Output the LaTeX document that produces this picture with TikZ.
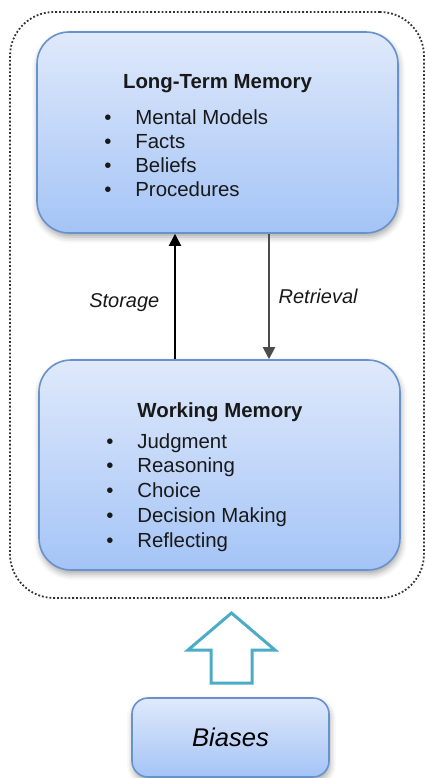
\documentclass[tikz,border=0pt]{standalone}
\usepackage{fontspec}
\setmainfont{Liberation Sans}
\usetikzlibrary{arrows.meta}
\usetikzlibrary{shadows.blur}
\definecolor{boxtop}{RGB}{223,233,251}
\definecolor{boxbot}{RGB}{164,196,246}
\definecolor{boxline}{RGB}{104,146,204}
\definecolor{pushcol}{RGB}{75,172,198}
\tikzset{mem/.style={draw=boxline, line width=0.8pt, top color=boxtop, bottom color=boxbot,
  blur shadow={shadow xshift=0.5pt, shadow yshift=-2pt, shadow opacity=35, shadow blur radius=3pt}}}
\tikzset{head/.style={font=\fontsize{10.2}{12}\selectfont\bfseries, text=black!90, anchor=base, inner sep=0pt}}
\tikzset{li/.style={font=\fontsize{10.2}{12}\selectfont, text=black!90, anchor=base west, inner sep=0pt}}
\tikzset{lab/.style={font=\fontsize{10}{12}\selectfont\itshape, text=black!90}}
\tikzset{flow/.style={-{Triangle[length=6pt,width=6pt]}, line width=1pt}}
\newcommand{\blt}{\makebox[15.5pt][l]{\textbullet}}

\begin{document}
\begin{tikzpicture}[x=0.5pt,y=-0.5pt]
  \useasboundingbox (0,0) rectangle (425,778);
  % dotted frame round both memories
  \node[draw=black!80, densely dotted, line width=0.9pt, rounded corners=22pt,
        minimum width=207pt, minimum height=293pt] (frame) at (217,305) {};
  % the two memory boxes
  \node[mem, rounded corners=16pt, minimum width=180.5pt, minimum height=100.5pt] (ltm) at (217.5,132.5) {};
  \node[head] (ltm-title) at (217.5,88) {Long-Term Memory};
  \foreach \txt [count=\i] in {Mental Models, Facts, Beliefs, Procedures}
    \node[li] (ltm-\i) at (104,{124+24*(\i-1)}) {\blt\txt};
  \node[mem, rounded corners=16pt, minimum width=180.5pt, minimum height=105pt] (wm) at (219.5,465) {};
  \node[head] (wm-title) at (220,417) {Working Memory};
  \foreach \txt [count=\i] in {Judgment, Reasoning, Choice, Decision Making, Reflecting}
    \node[li] (wm-\i) at (106,{448+24.75*(\i-1)}) {\blt\txt};
  % storage up, retrieval down
  \coordinate (st) at (175,0);
  \coordinate (rt) at (269,0);
  \draw[flow] (st |- wm.north) -- (st |- ltm.south)
    node[lab, pos=0.45, left, xshift=-4pt] (storage) {Storage};
  \draw[flow, black!70] (rt |- ltm.south) -- (rt |- wm.north)
    node[lab, pos=0.5, right, xshift=1pt] (retrieval) {Retrieval};
  % biases pushing up into the frame
  \node[mem, rounded corners=8pt, minimum width=98.5pt, minimum height=39.5pt,
        font=\fontsize{12.8}{14}\selectfont\itshape] (biases) at (230.5,737.5) {Biases};
  \draw[pushcol, line width=1.5pt, fill=white, line join=miter]
    (211,683) -- (211,650) -- (188,650) -- (231.5,613) -- (275,650) -- (252,650) -- (252,683) -- cycle;
\end{tikzpicture}
\end{document}
